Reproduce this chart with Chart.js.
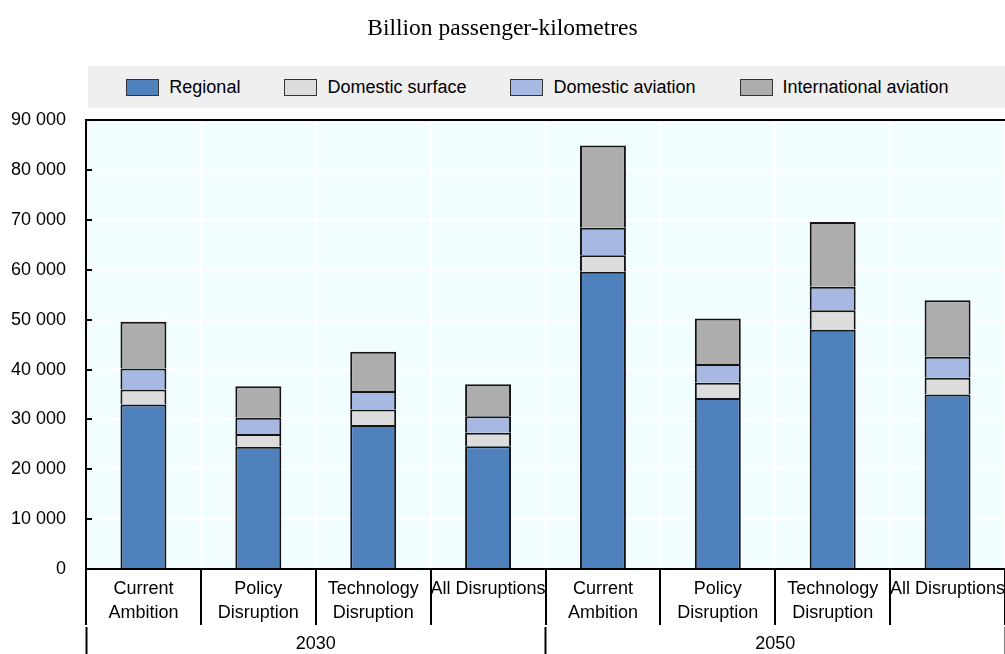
<!DOCTYPE html>
<html>
<head>
<meta charset="utf-8">
<script src="https://cdn.jsdelivr.net/npm/chart.js@4/dist/chart.umd.min.js"></script>
<style>
  body { margin: 0; background: #fff; }
  .wrap { position: relative; width: 1005px; height: 654px; }
  #legend {
    position: absolute; left: 88px; top: 66px; width: 917px; height: 42px;
    background: #efefef; display: flex; align-items: center; justify-content: center;
    box-sizing: border-box; padding-right: 18px;
    font: 18px "Liberation Sans", Arial, sans-serif; color: #000;
  }
  #legend .item { display: flex; align-items: center; margin: 0 22px; }
  #legend .swatch { width: 31px; height: 15px; border: 1px solid #333; margin-right: 10px; }
</style>
</head>
<body>
<div class="wrap">
  <canvas id="chart" width="1005" height="654"></canvas>
  <div id="legend"></div>
</div>
<script>
const categories = [
  ['Current', 'Ambition'], ['Policy', 'Disruption'], ['Technology', 'Disruption'], 'All Disruptions',
  ['Current', 'Ambition'], ['Policy', 'Disruption'], ['Technology', 'Disruption'], 'All Disruptions'
];
const years = ['2030', '2050'];
const yTicks = [0, 10000, 20000, 30000, 40000, 50000, 60000, 70000, 80000, 90000];

const regional = [33000, 24500, 28900, 24600, 59600, 34300, 48000, 35000];
const domesticSurface = [3000, 2550, 3100, 2700, 3300, 3050, 3900, 3350];
const domesticAviation = [4200, 3270, 3700, 3350, 5550, 3750, 4700, 4200];
const internationalAviation = [9400, 6350, 7850, 6400, 16500, 9150, 13000, 11350];

const palette = {
  regional: '#4f81bd',
  surface: '#dcdcdc',
  aviation: '#a7b9e3',
  intl: '#adadad',
  border: '#141414',
  plotBg: '#f2fdff',
  grid: '#ffffff'
};

const font = { family: '"Liberation Sans", Arial, sans-serif', size: 18 };
const catFont = { family: '"Liberation Sans", Arial, sans-serif', size: 18, lineHeight: 1.35 };

const fmt = (v) => String(v).replace(/\B(?=(\d{3})+(?!\d))/g, ' ');

const bar = (label, data, color) => ({
  label: label,
  data: data,
  backgroundColor: color,
  borderColor: palette.border,
  borderWidth: 2,
  barPercentage: 0.4,
  categoryPercentage: 1
});

// plot background + inward y ticks
const plotDecor = {
  id: 'plotDecor',
  beforeDraw(chart) {
    const a = chart.chartArea;
    const ctx = chart.ctx;
    ctx.save();
    ctx.fillStyle = palette.plotBg;
    ctx.fillRect(a.left, a.top, a.right - a.left, a.bottom - a.top);
    ctx.restore();
  },
  afterDraw(chart) {
    const y = chart.scales.y;
    const ctx = chart.ctx;
    ctx.save();
    ctx.strokeStyle = '#000';
    ctx.lineWidth = 2;
    y.ticks.forEach((t) => {
      if (t.value === 0) return;
      const py = Math.round(y.getPixelForValue(t.value));
      ctx.beginPath();
      ctx.moveTo(y.right, py);
      ctx.lineTo(y.right + 6, py);
      ctx.stroke();
    });
    ctx.restore();
  }
};

const chart = new Chart(document.getElementById('chart'), {
  type: 'bar',
  data: {
    labels: categories,
    datasets: [
      bar('Regional', regional, palette.regional),
      bar('Domestic surface', domesticSurface, palette.surface),
      bar('Domestic aviation', domesticAviation, palette.aviation),
      bar('International aviation', internationalAviation, palette.intl)
    ]
  },
  options: {
    responsive: false,
    animation: false,
    layout: { padding: 0 },
    plugins: {
      legend: { display: false },
      tooltip: { enabled: false },
      title: {
        display: true,
        text: 'Billion passenger-kilometres',
        color: '#000',
        font: { family: '"Liberation Serif", "Times New Roman", serif', size: 23.5, weight: 'normal' },
        padding: { top: 15, bottom: 77 }
      }
    },
    scales: {
      x: {
        stacked: true,
        offset: true,
        border: { display: true, color: '#000', width: 2 },
        grid: { offset: true, color: palette.grid, lineWidth: 2, tickColor: '#000', tickWidth: 2, tickLength: 56 },
        ticks: { color: '#000', font: catFont, padding: -48, autoSkip: false, maxRotation: 0, minRotation: 0 },
        afterFit: (s) => { s.height = 58; }
      },
      x2: {
        type: 'category',
        labels: years,
        position: 'bottom',
        offset: true,
        border: { display: false },
        grid: { offset: true, drawOnChartArea: false, tickColor: '#000', tickWidth: 2, tickLength: 30 },
        ticks: { color: '#000', font: font, padding: -24, maxRotation: 0 },
        afterFit: (s) => { s.height = 27; }
      },
      y: {
        stacked: true,
        min: 0,
        max: 90000,
        border: { display: true, color: '#000', width: 2 },
        grid: {
          drawTicks: false,
          lineWidth: 2,
          color: (ctx) => (ctx.tick && ctx.tick.value === 90000 ? '#000' : palette.grid)
        },
        afterBuildTicks: (s) => { s.ticks = yTicks.map((v) => ({ value: v })); },
        ticks: { color: '#000', font: font, padding: 20, callback: (v) => fmt(v) },
        afterFit: (s) => { s.width = 86; }
      }
    }
  },
  plugins: [plotDecor]
});

// html legend built from the datasets
const legendEl = document.getElementById('legend');
chart.data.datasets.forEach((ds) => {
  const item = document.createElement('div');
  item.className = 'item';
  const sw = document.createElement('span');
  sw.className = 'swatch';
  sw.style.background = ds.backgroundColor;
  const txt = document.createElement('span');
  txt.textContent = ds.label;
  item.appendChild(sw);
  item.appendChild(txt);
  legendEl.appendChild(item);
});
</script>
</body>
</html>
